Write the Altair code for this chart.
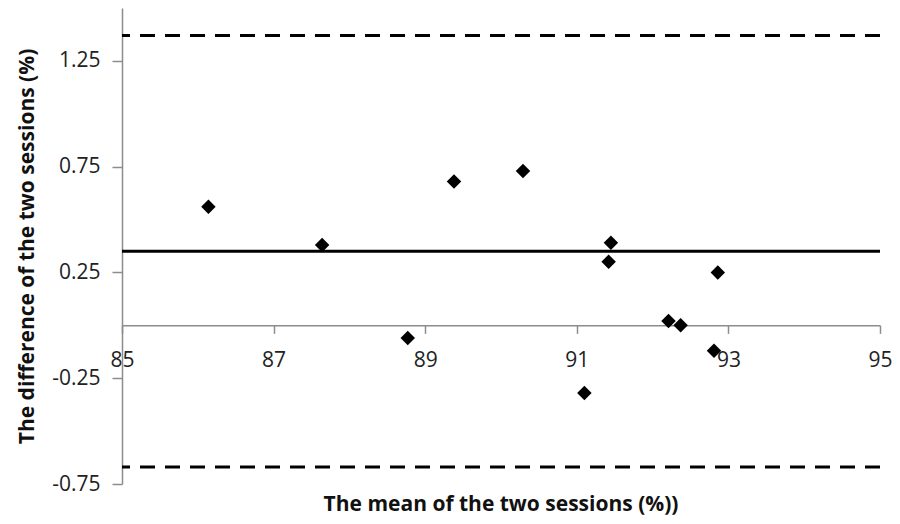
import altair as alt
import pandas as pd

# Data
mean_x = [86.14, 87.64, 88.77, 89.38, 90.29, 91.10, 91.42, 91.45, 92.21, 92.37, 92.81, 92.86]
diff_y = [0.56, 0.38, -0.06, 0.68, 0.73, -0.32, 0.30, 0.39, 0.02, 0.00, -0.12, 0.25]
mean_diff = [0.35]
limits = [1.37, -0.67]
x_ticks = [85, 87, 89, 91, 93, 95]
y_ticks = [-0.75, -0.25, 0.25, 0.75, 1.25]

pts = pd.DataFrame({"m": mean_x, "d": diff_y})
mean_df = pd.DataFrame({"d": mean_diff})
lim_df = pd.DataFrame({"d": limits})

FONT = "Open Sans"
W, H = 758, 476
y_dom = [-0.75, 1.5]
zero_from_top = H * (y_dom[1] - 0) / (y_dom[1] - y_dom[0])
x_offset = -(H - zero_from_top)

xs = alt.X("m:Q", scale=alt.Scale(domain=[85, 95], nice=False, zero=False),
           axis=alt.Axis(values=x_ticks, title=None, grid=False, offset=x_offset,
                         domainColor="#8c8c8c", domainWidth=1.5, tickColor="#8c8c8c",
                         tickSize=8, tickWidth=1.5, labelPadding=16, labelFont=FONT,
                         labelFontSize=21, labelColor="#222", format="d",
                         labelFlush=False, labelOverlap=False))
ys = alt.Y("d:Q", scale=alt.Scale(domain=y_dom, nice=False, zero=False),
           axis=alt.Axis(values=y_ticks, title="The difference of the two sessions (%)",
                         grid=False, domainColor="#8c8c8c", domainWidth=1.5,
                         tickColor="#8c8c8c", tickSize=10, tickWidth=1.5, labelPadding=12,
                         labelFont=FONT, labelFontSize=21, labelColor="#222",
                         labelFlush=False, labelOverlap=False,
                         labelExpr="replace(format(datum.value, '.2f'), '\u2212', '-')",
                         titleFont=FONT, titleFontSize=21, titleFontWeight="bold",
                         titleColor="#111", titlePadding=14))

points = alt.Chart(pts).mark_point(shape="diamond", filled=True, size=210,
                                   color="black", opacity=1).encode(x=xs, y=ys)
mean_rule = alt.Chart(mean_df).mark_rule(color="black", strokeWidth=3).encode(
    y=alt.Y("d:Q"))
lim_rule = alt.Chart(lim_df).mark_rule(color="black", strokeWidth=3,
                                       strokeDash=[15, 10]).encode(y=alt.Y("d:Q"))

chart = alt.layer(mean_rule, lim_rule, points).properties(
    width=W, height=H,
    autosize=alt.AutoSizeParams(type="none"),
    padding={"left": 114, "top": 0, "right": 12, "bottom": 32},
    title=alt.TitleParams("The mean of the two sessions (%))", orient="bottom",
                          anchor="middle", font=FONT, fontSize=21, fontWeight="bold",
                          color="#111", offset=0),
).configure_view(stroke=None)

chart.save("out.html", embed_options={"renderer": "svg", "actions": False})
